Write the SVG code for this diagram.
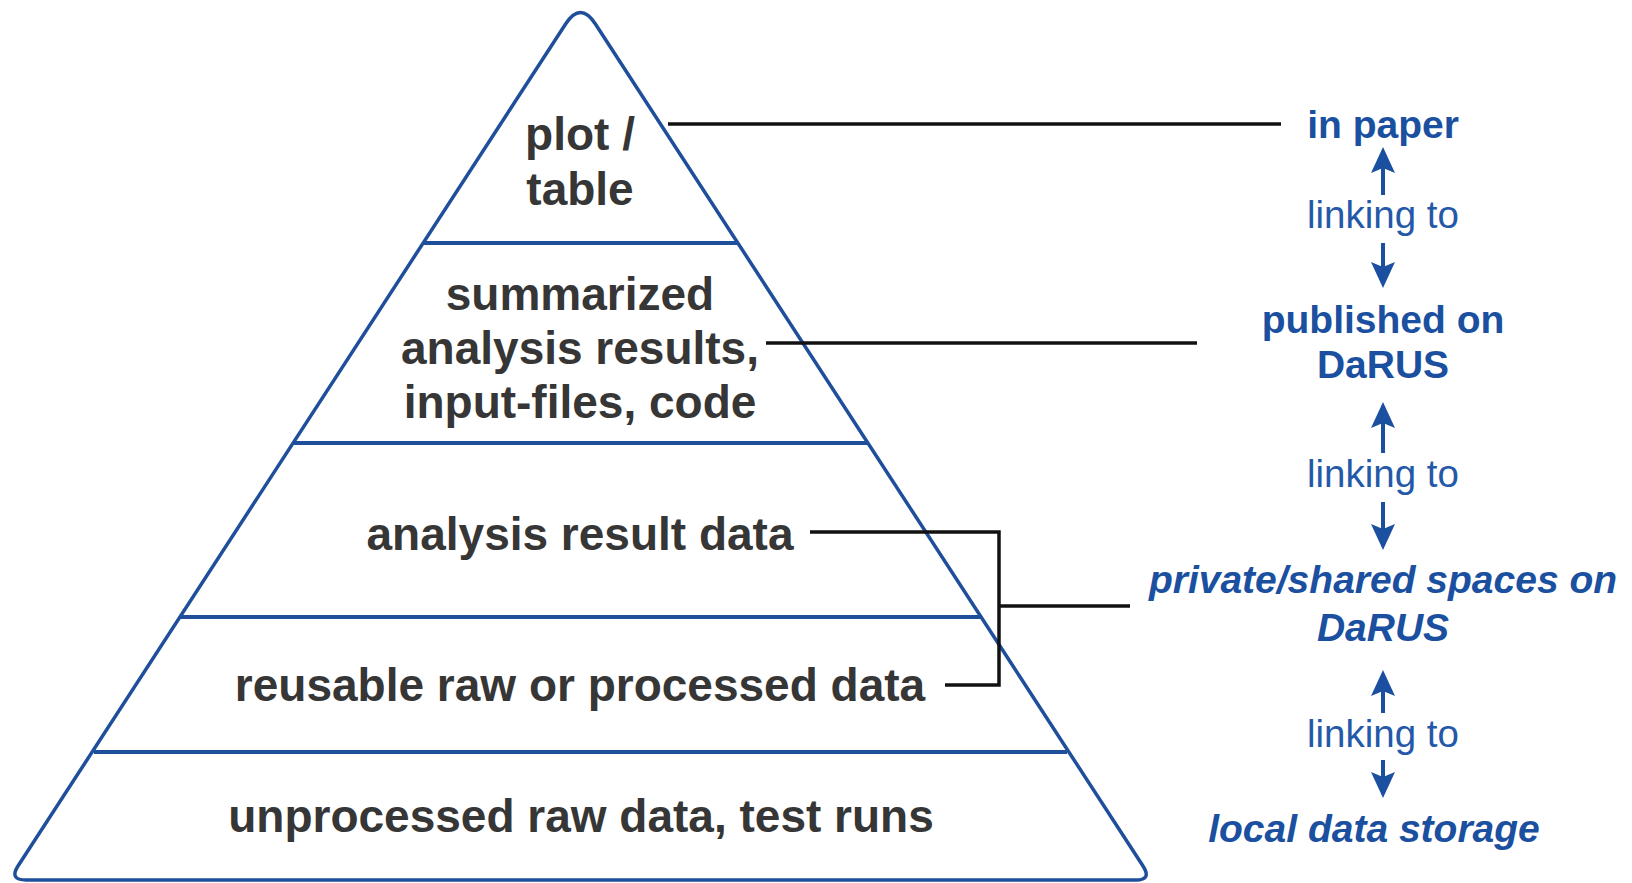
<svg xmlns="http://www.w3.org/2000/svg" width="1632" height="883" viewBox="0 0 1632 883">
  <style>
    .pyr { fill: none; stroke: #1f4f9b; stroke-width: 3.5; stroke-linejoin: round; }
    .div { stroke: #1f4f9b; stroke-width: 4; }
    .lvl { font-family: "Liberation Sans", Arial, sans-serif; font-weight: bold; font-size: 46px; fill: #363636; text-anchor: middle; }
    .dest { font-family: "Liberation Sans", Arial, sans-serif; font-weight: bold; font-size: 39px; fill: #1b4f9f; text-anchor: middle; }
    .it { font-style: italic; }
    .link { font-family: "Liberation Sans", Arial, sans-serif; font-size: 38.5px; fill: #2458a8; text-anchor: middle; }
    .conn { fill: none; stroke: #111; stroke-width: 3.5; }
    .arr { stroke: #1b4f9f; stroke-width: 4; marker-end: url(#head); }
  </style>
  <defs>
    <marker id="head" viewBox="0 0 26 24" refX="14" refY="12" markerWidth="26" markerHeight="24" markerUnits="userSpaceOnUse" orient="auto">
      <path d="M0,0 L26,12 L0,24 L5,12 Z" fill="#1b4f9f"/>
    </marker>
  </defs>
  <rect width="1632" height="883" fill="#ffffff"/>

  <g id="pyramid">
    <path class="pyr" d="M565.6,24 Q580.5,1 595.4,24 L1143,866 Q1152,880 1136,880 L26,880 Q9,880 18,866 Z"/>
    <line class="div" x1="424" y1="243" x2="737" y2="243"/>
    <line class="div" x1="294" y1="443" x2="867" y2="443"/>
    <line class="div" x1="181" y1="617" x2="980" y2="617"/>
    <line class="div" x1="94" y1="752" x2="1067" y2="752"/>
  </g>

  <g id="level-plot">
    <text class="lvl" x="580" y="150">plot /</text>
    <text class="lvl" x="580" y="205">table</text>
  </g>
  <g id="level-summarized">
    <text class="lvl" x="580" y="310">summarized</text>
    <text class="lvl" x="580" y="364">analysis results,</text>
    <text class="lvl" x="580" y="418">input-files, code</text>
  </g>
  <g id="level-analysis">
    <text class="lvl" x="580" y="550">analysis result data</text>
  </g>
  <g id="level-reusable">
    <text class="lvl" x="580" y="701">reusable raw or processed data</text>
  </g>
  <g id="level-unprocessed">
    <text class="lvl" x="581" y="832">unprocessed raw data, test runs</text>
  </g>

  <g id="dest-paper">
    <text class="dest" x="1383" y="138">in paper</text>
  </g>
  <g id="dest-published">
    <text class="dest" x="1383" y="333">published on</text>
    <text class="dest" x="1383" y="378">DaRUS</text>
  </g>
  <g id="dest-private">
    <text class="dest it" x="1383" y="593">private/shared spaces on</text>
    <text class="dest it" x="1383" y="641">DaRUS</text>
  </g>
  <g id="dest-local">
    <text class="dest it" x="1374" y="842">local data storage</text>
  </g>

  <g id="link-labels">
    <text class="link" x="1383" y="228">linking to</text>
    <text class="link" x="1383" y="487">linking to</text>
    <text class="link" x="1383" y="747">linking to</text>
  </g>

  <g id="connectors">
    <path class="conn" d="M668,124 H1281"/>
    <path class="conn" d="M766,343 H1197"/>
    <path class="conn" d="M810,532 H999 V685 H945"/>
    <path class="conn" d="M999,606 H1130"/>
    <line class="arr" x1="1383" y1="195" x2="1383" y2="159"/>
    <line class="arr" x1="1383" y1="243" x2="1383" y2="276"/>
    <line class="arr" x1="1383" y1="453" x2="1383" y2="414"/>
    <line class="arr" x1="1383" y1="502" x2="1383" y2="538"/>
    <line class="arr" x1="1383" y1="713" x2="1383" y2="682"/>
    <line class="arr" x1="1383" y1="760" x2="1383" y2="786"/>
  </g>
</svg>
